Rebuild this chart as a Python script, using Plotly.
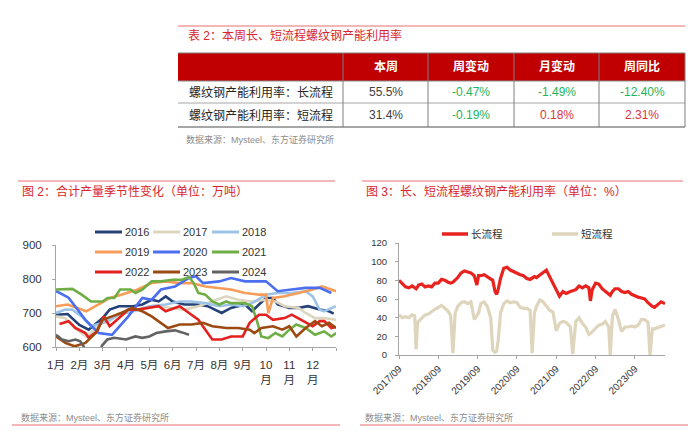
import plotly.graph_objects as go

W, H = 700, 439
def X(px): return px / W
def Y(py): return 1 - py / H

FONT = "Liberation Sans, Arial, Noto Sans CJK SC, sans-serif"
RED_T = "#D9262C"
PINK = "#F4B6B6"
SRC_C = "#8C8C8C"

# ---------------- table data ----------------
tbl_head = ["", "本周", "周变动", "月变动", "周同比"]
tbl_rows = ["螺纹钢产能利用率：长流程", "螺纹钢产能利用率：短流程"]
tbl_week = ["55.5%", "31.4%"]
tbl_wchg = ["-0.47%", "-0.19%"]
tbl_mchg = ["-1.49%", "0.18%"]
tbl_yoy = ["-12.40%", "2.31%"]

# ---------------- left chart data (month position, 万吨) ----------------
years = ["2016", "2017", "2018", "2019", "2020", "2021", "2022", "2023", "2024"]
colors = ["#244178", "#DDD6BE", "#9DC3E6", "#F89C5A", "#4A6FF0", "#6FAE45", "#E3211F", "#9C4A12", "#636363"]

m2016 = [0, 0.5, 1.0, 1.4, 2.0, 2.3, 2.7, 3.3, 3.7, 4.1, 4.4, 4.7, 5.0, 5.5, 6.1, 6.5, 7.1, 7.5, 8.1, 8.4, 8.7, 9.0, 9.3, 9.5, 10.0, 10.4, 10.8, 11.3, 11.7, 11.9]
v2016 = [695, 697, 665, 651, 685, 710, 720, 720, 725, 739, 734, 749, 734, 725, 725, 720, 700, 715, 725, 705, 725, 744, 744, 725, 715, 715, 720, 710, 705, 698]
m2017 = [0, 0.4, 0.8, 1.3, 1.5, 1.8, 2.3, 2.7, 3.3, 3.8, 4.4, 5.0, 5.5, 6.1, 6.7, 7.3, 7.8, 8.4, 9.0, 9.4, 9.8, 10.4, 10.7, 11.1, 11.5, 12]
v2017 = [690, 685, 656, 631, 641, 666, 676, 700, 705, 715, 720, 715, 710, 720, 734, 749, 739, 734, 739, 734, 720, 715, 700, 685, 685, 680]
m2018 = [0, 0.4, 0.7, 1.1, 1.5, 2.0, 2.3, 2.7, 3.3, 4.0, 4.7, 5.3, 5.8, 6.4, 7.0, 7.5, 8.0, 8.4, 9.0, 9.5, 10.1, 10.7, 11.0, 11.3, 11.5, 12]
v2018 = [700, 710, 710, 690, 661, 671, 680, 695, 705, 720, 725, 734, 734, 729, 720, 725, 720, 729, 754, 759, 759, 764, 749, 710, 705, 720]
m2019 = [0, 0.5, 1.3, 1.7, 2.3, 2.8, 3.5, 4.1, 4.7, 5.3, 5.8, 6.4, 7.0, 7.5, 8.1, 8.7, 9.0, 9.1, 9.3, 9.8, 10.4, 11.0, 11.4, 12]
v2019 = [720, 725, 705, 720, 744, 754, 769, 788, 793, 788, 788, 778, 774, 769, 759, 754, 754, 700, 744, 749, 759, 769, 778, 764]
m2020 = [0, 0.54, 1.26, 1.83, 2.4, 3.1, 3.7, 4.1, 4.5, 5.1, 5.7, 6.0, 6.3, 7.0, 7.5, 8.1, 9.0, 9.5, 10.1, 10.7, 11.3, 11.8]
v2020 = [765, 745, 680, 641, 636, 690, 744, 739, 769, 778, 803, 808, 788, 793, 803, 793, 793, 764, 769, 774, 774, 759]
m2021 = [0, 0.4, 0.7, 1.1, 1.5, 2.0, 2.2, 2.5, 2.75, 3.2, 3.4, 3.7, 4.1, 4.5, 5.0, 5.4, 5.7, 5.9, 6.1, 6.4, 6.7, 7.0, 7.3, 7.5, 8.1, 8.4, 8.6, 8.8, 9.1, 9.4, 9.7, 10.0, 10.3, 10.7, 11.1, 11.5, 11.8, 12]
v2021 = [769, 769, 771, 754, 734, 734, 744, 744, 769, 769, 759, 769, 793, 793, 798, 798, 806, 788, 759, 754, 734, 725, 734, 729, 729, 720, 680, 631, 626, 641, 631, 651, 666, 656, 636, 646, 631, 641]
m2022 = [0.15, 0.54, 0.83, 1.26, 1.4, 1.76, 2.04, 2.3, 2.7, 3.1, 3.5, 4.0, 4.4, 4.7, 5.3, 5.7, 6.1, 6.4, 6.7, 7.1, 7.5, 8.0, 8.3, 8.7, 9.0, 9.3, 9.8, 10.1, 10.5, 11.0, 11.3, 11.5, 11.8, 12]
v2022 = [668, 676, 656, 641, 627, 646, 690, 661, 685, 710, 710, 715, 720, 705, 720, 700, 680, 651, 622, 622, 631, 631, 671, 695, 695, 680, 685, 695, 680, 661, 676, 676, 656, 659]
m2023 = [0, 0.4, 0.8, 1.26, 1.7, 2.0, 2.4, 2.8, 3.26, 3.7, 4.1, 4.5, 4.8, 5.3, 5.8, 6.3, 6.7, 7.3, 7.8, 8.3, 8.5, 8.8, 9.3, 9.7, 10.0, 10.3, 10.7, 11.1, 11.4, 11.7, 12]
v2023 = [631, 612, 602, 612, 641, 680, 690, 700, 715, 705, 690, 671, 656, 666, 666, 671, 661, 656, 656, 651, 641, 656, 661, 651, 661, 631, 656, 676, 661, 671, 656]
m2024 = [0, 0.26, 0.54, 0.83, 1.04, 1.2, 1.35, 1.85, 1.97, 2.2, 2.5, 3.0, 3.4, 3.7, 4.0, 4.3, 4.7, 5.1, 5.4, 5.7]
v2024 = [636, 622, 617, 622, 617, 600, 570, 570, 604, 622, 627, 622, 631, 627, 631, 641, 646, 649, 643, 636]

month_pos = [0, 1, 2, 3, 4, 5, 6, 7, 8, 9, 10, 11, 12]
month_lbl = ["1月", "2月", "3月", "4月", "5月", "6月", "7月", "8月", "9月", "10<br>月", "11<br>月", "12<br>月", ""]

# ---------------- right chart data (%) ----------------
r_dates = ["2017-09-01", "2017-10-01", "2017-11-01", "2017-12-01", "2018-01-01", "2018-01-25", "2018-02-07", "2018-02-20",
           "2018-03-01", "2018-04-01", "2018-05-01", "2018-06-01", "2018-07-01", "2018-08-01", "2018-09-01", "2018-10-01",
           "2018-11-01", "2018-12-01", "2018-12-25", "2019-01-15", "2019-02-05", "2019-03-01", "2019-04-01", "2019-05-01",
           "2019-06-01", "2019-07-01", "2019-08-01", "2019-08-25", "2019-09-10", "2019-10-01", "2019-11-01", "2019-12-01",
           "2020-01-01", "2020-01-20", "2020-02-10", "2020-02-25", "2020-03-10", "2020-04-01", "2020-05-01", "2020-06-01",
           "2020-07-01", "2020-08-01", "2020-09-01", "2020-10-01", "2020-11-01", "2020-12-01", "2021-01-01", "2021-01-20",
           "2021-02-10", "2021-03-01", "2021-04-01", "2021-05-01", "2021-06-01", "2021-07-01", "2021-08-01", "2021-09-01",
           "2021-10-01", "2021-11-01", "2021-12-01", "2022-01-10", "2022-02-01", "2022-02-20", "2022-03-01", "2022-04-01",
           "2022-05-01", "2022-06-01", "2022-07-01", "2022-07-15", "2022-08-01", "2022-09-01", "2022-10-01", "2022-11-01",
           "2022-12-01", "2023-01-01", "2023-01-15", "2023-02-05", "2023-03-01", "2023-04-01", "2023-05-01", "2023-06-01",
           "2023-07-01", "2023-08-01", "2023-09-01", "2023-10-01", "2023-11-01", "2023-12-01", "2024-01-01", "2024-01-20",
           "2024-02-10", "2024-03-01", "2024-04-01", "2024-05-01", "2024-06-07"]
long_proc = [80, 77, 73, 72, 74, 72, 71, 73,
             75, 76, 73, 74, 73, 77, 77, 81,
             80, 78, 77, 78, 80, 83, 88, 90,
             89, 88, 85, 75, 85, 85, 86, 84,
             82, 80, 68, 65, 70, 82, 93, 94,
             91, 89, 87, 86, 85, 82, 81, 82,
             84, 83, 86, 89, 91, 84, 77, 70,
             63, 68, 66, 68, 69, 70, 70, 74,
             72, 74, 72, 58, 70, 77, 76, 71,
             68, 65, 64, 68, 71, 71, 68, 67,
             68, 65, 63, 62, 61, 60, 56, 54,
             52, 51, 54, 57, 55]
short_proc = [43, 40, 41, 40, 43, 42, 6, 34,
              36, 40, 43, 44, 47, 49, 51, 53,
              50, 47, 42, 2, 45, 52, 56, 57,
              55, 57, 38, 42, 45, 55, 57, 52,
              40, 5, 3, 4, 15, 45, 55, 58,
              56, 57, 56, 51, 50, 50, 48, 2,
              45, 52, 59, 57, 53, 48, 46, 26,
              34, 36, 35, 30, 1, 30, 36, 40,
              34, 30, 22, 23, 25, 28, 32, 33,
              36, 30, 0, 42, 49, 38, 25, 30,
              30, 31, 30, 32, 38, 38, 35, 0,
              28, 28, 29, 30, 32]
r_tickvals = ["2017-09-01", "2018-09-01", "2019-09-01", "2020-09-01", "2021-09-01", "2022-09-01", "2023-09-01"]
r_ticktext = ["2017/09", "2018/09", "2019/09", "2020/09", "2021/09", "2022/09", "2023/09"]
r_names = ["长流程", "短流程"]
r_colors = ["#E8231F", "#DED5BC"]

fig = go.Figure()

series = [(m2016, v2016), (m2017, v2017), (m2018, v2018), (m2019, v2019), (m2020, v2020),
          (m2021, v2021), (m2022, v2022), (m2023, v2023), (m2024, v2024)]
for (mx, vy), name, col in zip(series, years, colors):
    fig.add_trace(go.Scatter(x=mx, y=vy, mode="lines", name=name, showlegend=False,
                             line=dict(color=col, width=2.6), xaxis="x", yaxis="y"))

for vals, name, col in zip([long_proc, short_proc], r_names, r_colors):
    fig.add_trace(go.Scatter(x=r_dates, y=vals, mode="lines", name=name, showlegend=False,
                             line=dict(color=col, width=3.2), xaxis="x2", yaxis="y2"))

AX = "#A6A6A6"
fig.update_layout(
    width=W, height=H, margin=dict(l=0, r=0, t=0, b=0, autoexpand=False),
    paper_bgcolor="white", plot_bgcolor="white",
    font=dict(family=FONT, color="#333333"),
    xaxis=dict(domain=[X(56), X(336)], range=[0, 12], tickvals=month_pos, ticktext=month_lbl,
               showline=True, linecolor=AX, linewidth=1, ticks="outside", ticklen=3, tickcolor=AX,
               showgrid=False, zeroline=False, tickfont=dict(size=11.5, color="#333333"), anchor="y",
               ticklabelstandoff=4, automargin=False),
    yaxis=dict(domain=[Y(347), Y(245)], range=[600, 900], dtick=100, showline=True, linecolor=AX,
               ticks="outside", ticklen=3, tickcolor=AX, showgrid=False, zeroline=False,
               tickfont=dict(size=11.5, color="#333333"), anchor="x", ticklabelstandoff=8,
               automargin=False),
    xaxis2=dict(domain=[X(399), X(665)], type="date", range=["2017-09-01", "2024-06-07"],
                tickvals=r_tickvals, ticktext=r_ticktext, tickangle=-45, showline=True, linecolor=AX,
                ticks="outside", ticklen=3, tickcolor=AX, showgrid=False, zeroline=False,
                tickfont=dict(size=10, color="#333333"), anchor="y2", automargin=False),
    yaxis2=dict(domain=[Y(355), Y(243)], range=[0, 120], dtick=20, showline=True, linecolor=AX,
                ticks="outside", ticklen=3, tickcolor=AX, showgrid=False, zeroline=False,
                tickfont=dict(size=9.5, color="#333333"), anchor="x2", ticklabelstandoff=6,
                automargin=False),
)

shapes = []
ann = []

def hline(x0, x1, y, color, width):
    shapes.append(dict(type="line", xref="paper", yref="paper", x0=X(x0), x1=X(x1), y0=Y(y), y1=Y(y),
                       line=dict(color=color, width=width)))

def vline(x, y0, y1, color, width):
    shapes.append(dict(type="line", xref="paper", yref="paper", x0=X(x), x1=X(x), y0=Y(y0), y1=Y(y1),
                       line=dict(color=color, width=width)))

def text(x, y, s, size, color, xanchor="left", bold=False):
    ann.append(dict(xref="paper", yref="paper", x=X(x), y=Y(y), text=(f"<b>{s}</b>" if bold else s),
                    showarrow=False, xanchor=xanchor, yanchor="middle",
                    font=dict(size=size, color=color, family=FONT)))

# ---- decorative pink rules ----
hline(178, 685, 26, PINK, 2)
hline(18, 335, 181, PINK, 2)
hline(362, 683, 181, PINK, 2)
hline(12, 340, 425, PINK, 2)
hline(360, 688, 425, PINK, 2)

# ---- titles & sources ----
text(186, 35, "表 2：本周长、短流程螺纹钢产能利用率", 12, RED_T)
text(20, 191, "图 2：合计产量季节性变化（单位：万吨）", 12, RED_T)
text(364, 191, "图 3：长、短流程螺纹钢产能利用率（单位：%）", 12, RED_T)
text(184, 139, "数据来源：Mysteel、东方证券研究所", 9, SRC_C)
text(19, 417, "数据来源：Mysteel、东方证券研究所", 9, SRC_C)
text(363, 417, "数据来源：Mysteel、东方证券研究所", 9, SRC_C)

# ---- table ----
cx = [178, 343, 428, 514, 599, 685]
ry = [53, 81, 103, 127]
shapes.append(dict(type="rect", xref="paper", yref="paper", x0=X(cx[0]), x1=X(cx[-1]), y0=Y(ry[1]), y1=Y(ry[0]),
                   fillcolor="#C00000", line=dict(width=0), layer="below"))
hline(cx[0], cx[-1], ry[0], "#7F7F7F", 1)
hline(cx[0], cx[-1], ry[1], "#8C8C8C", 1)
hline(cx[0], cx[-1], ry[2], "#A6A6A6", 1)
hline(cx[0], cx[-1], ry[3], "#A6A6A6", 2)
for xx in cx[1:]:
    vline(xx, ry[0], ry[3], "#7F7F7F", 1)
for i, h in enumerate(tbl_head):
    if h:
        text((cx[i] + cx[i + 1]) / 2, (ry[0] + ry[1]) / 2, h, 12, "white", "center", bold=True)

def vcol(v):
    return "#1DB45A" if v.startswith("-") else "#E0343C"

for r in range(2):
    yc = (ry[r + 1] + ry[r + 2]) / 2
    text((cx[0] + cx[1]) / 2, yc, tbl_rows[r], 12, "#262626", "center")
    text((cx[1] + cx[2]) / 2, yc, tbl_week[r], 12, "#404040", "center")
    for j, col in enumerate([tbl_wchg, tbl_mchg, tbl_yoy]):
        text((cx[j + 2] + cx[j + 3]) / 2, yc, col[r], 12, vcol(col[r]), "center")

# ---- left legend ----
lx = [95, 153, 212]
ly = [232, 252, 272]
for k, (name, col) in enumerate(zip(years, colors)):
    r, c = divmod(k, 3)
    hline(lx[c], lx[c] + 27, ly[r], col, 3)
    text(lx[c] + 28, ly[r], name, 11, "#333333")

# ---- right legend ----
for name, col, x0 in zip(r_names, r_colors, [442, 552]):
    hline(x0, x0 + 26, 234, col, 3.5)
    text(x0 + 27, 234, name, 10.5, "#333333")

fig.update_layout(shapes=shapes, annotations=ann)
fig.write_html("out.html")
